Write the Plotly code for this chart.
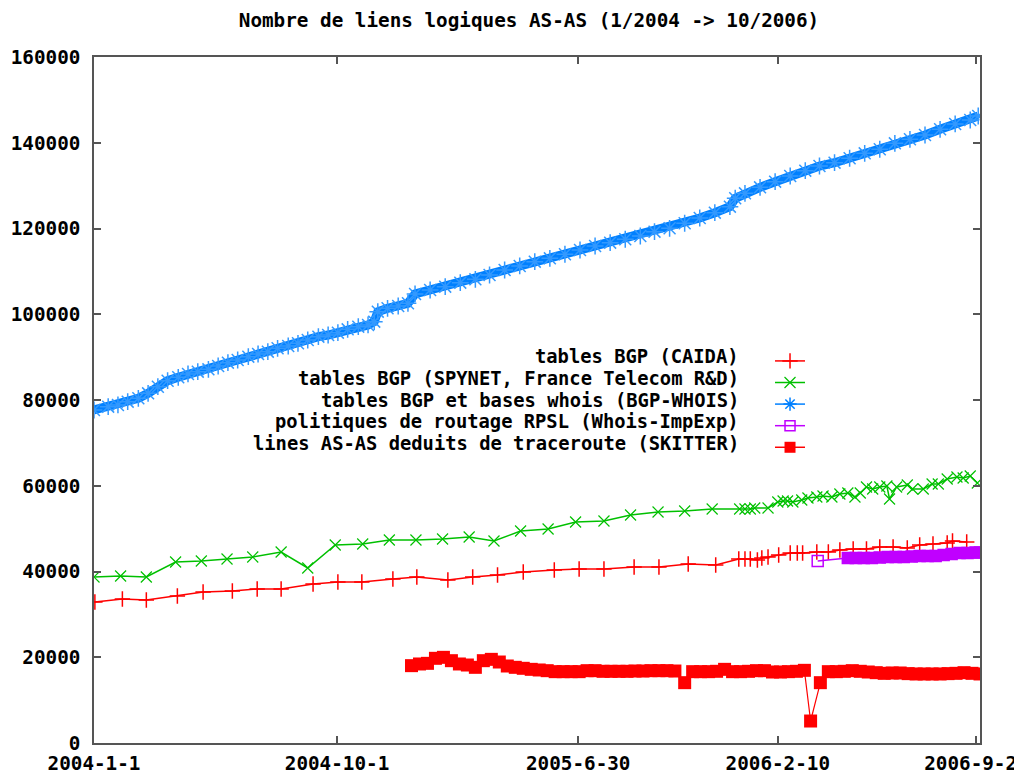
import pandas as pd
import plotly.graph_objects as go

START = pd.Timestamp("2004-01-01")
FONT = "DejaVu Sans Mono"

# jours depuis le 2004-01-01 -> nombre de liens AS-AS
caida_days = [1, 32, 59, 94, 123, 156, 184, 211, 247, 275, 302, 337, 364, 399, 427, 455,
              484, 519, 547, 575, 609, 637, 670, 701, 727, 734, 740, 748, 753, 760, 772,
              785, 793, 799, 815, 828, 841, 856, 871, 886, 901, 917, 931, 946, 962, 968, 984]
caida_links = [32890, 33590, 33350, 34290, 35220, 35450, 35920, 35920, 37090, 37550, 37550,
               38250, 38720, 38020, 38720, 39180, 39880, 40350, 40580, 40580, 41050, 41050,
               41750, 41520, 42920, 42920, 42920, 42680, 43150, 43380, 43850, 44320, 44320,
               44320, 44550, 44550, 45020, 45250, 45250, 45720, 45720, 45480, 46180, 46420,
               46650, 47110, 46880]

spynet_days = [0, 30, 59, 92, 121, 150, 179, 211, 241, 272, 303, 333, 363, 393, 423, 451,
               481, 512, 543, 575, 605, 636, 666, 697, 728, 734, 740, 745, 760, 771, 777,
               782, 788, 798, 805, 815, 822, 832, 841, 850, 858, 864, 871, 878, 886, 894,
               897, 905, 917, 923, 935, 945, 952, 962, 973, 980, 988, 996]
spynet_links = [38720, 38950, 38720, 42220, 42450, 42920, 43380, 44550, 40820, 46180, 46420,
                47350, 47350, 47580, 48050, 47110, 49450, 49910, 51550, 51780, 53180, 53880,
                54110, 54580, 54580, 54580, 54580, 54810, 54810, 56210, 56440, 56440, 56210,
                56680, 57140, 57380, 57610, 57380, 58080, 58310, 57380, 58310, 59710, 59240,
                59710, 59940, 56910, 59710, 60180, 59240, 59240, 60410, 60410, 61580, 62040,
                61810, 62280, 60640]

whois_days = [0, 16, 27, 38, 50, 61, 72, 83, 95, 106, 117, 129, 140, 151, 162, 174, 185,
              196, 207, 219, 230, 241, 253, 264, 275, 286, 298, 309, 316, 320, 331, 343,
              354, 362, 379, 396, 413, 430, 446, 463, 480, 497, 514, 531, 548, 565, 582,
              599, 616, 632, 649, 666, 683, 700, 717, 723, 734, 751, 768, 785, 802, 818,
              835, 852, 869, 886, 903, 920, 937, 954, 971, 988, 997]
whois_links = [77670, 78450, 78840, 79610, 80400, 81560, 83100, 84500, 85300, 86070, 86600,
               87160, 87930, 88700, 89330, 90100, 90730, 91270, 92060, 92600, 93230, 94000,
               94770, 95160, 95700, 96490, 97100, 97500, 98270, 100600, 101390, 101930,
               102560, 104730, 105660, 106430, 107360, 108150, 109160, 110320, 111260,
               112260, 113050, 113990, 114990, 115920, 116690, 117490, 118250, 119260,
               120050, 121220, 122450, 123690, 125090, 127050, 128210, 129610, 130920,
               132250, 133480, 134580, 135350, 136380, 137540, 138480, 139870, 140810,
               141810, 143140, 144380, 145310, 146240]

rpsl_days = [816, 850, 859, 868, 877, 886, 895, 904, 913, 922, 931, 940, 949, 958,
             967, 976, 985, 994, 999]
rpsl_links = [42450, 43150, 43150, 43150, 43150, 43270, 43380, 43380, 43380, 43500,
              43620, 43620, 43620, 43850, 44080, 44310, 44310, 44430, 44430]

skitter_days = [358, 367, 376, 385, 394, 403, 412, 421, 430, 439, 448, 457, 466, 475, 484,
                493, 502, 511, 520, 529, 538, 547, 556, 565, 574, 583, 592, 601, 610, 619,
                628, 637, 646, 655, 666, 675, 684, 693, 702, 711, 720, 729, 738, 747, 756,
                765, 774, 783, 792, 801, 808, 819, 828, 837, 846, 855, 864, 873, 882, 891,
                900, 909, 918, 927, 936, 945, 954, 963, 972, 981, 990, 999]
skitter_links = [18040, 18430, 18580, 19750, 19980, 19200, 18430, 18190, 17650, 19200, 19510,
                 18890, 17960, 17650, 17420, 17180, 17030, 16870, 16640, 16640, 16640, 16640,
                 16870, 16870, 16720, 16720, 16720, 16720, 16790, 16790, 16870, 16870, 16870,
                 16790, 14070, 16640, 16640, 16640, 16720, 17180, 16640, 16640, 16720, 16870,
                 16870, 16560, 16560, 16640, 16720, 16950, 5130, 14070, 16640, 16640, 16720,
                 16870, 16720, 16560, 16400, 16250, 16330, 16330, 16180, 16100, 16100, 16100,
                 16100, 16180, 16250, 16400, 16250, 16100]

series_labels = [
    "tables BGP (CAIDA)",
    "tables BGP (SPYNET, France Telecom R&D)",
    "tables BGP et bases whois (BGP-WHOIS)",
    "politiques de routage RPSL (Whois-ImpExp)",
    "lines AS-AS deduits de traceroute (SKITTER)",
]

tick_dates = ["2004-01-01", "2004-10-01", "2005-06-30", "2006-02-10", "2006-09-22"]
tick_labels = ["2004-1-1", "2004-10-1", "2005-6-30", "2006-2-10", "2006-9-22"]


def to_dates(days):
    return START + pd.to_timedelta(days, unit="D")


RED = "#ff0000"
GREEN = "#00c000"
BLUE = "#0080ff"
PURPLE = "#c000ff"
TXT = dict(family=FONT, size=19.3, color="black", weight="bold")

# premier point RPSL isole (carre vide), puis bande dense de carres
rpsl_symbols = ["square-open"] + ["square"] * (len(rpsl_days) - 1)

# (jours, valeurs, style ligne, style marqueur) par serie
styles = [
    (caida_days, caida_links, dict(color=RED, width=1.5),
     dict(symbol="cross-thin-open", size=11, color=RED, line=dict(color=RED, width=1.5))),
    (spynet_days, spynet_links, dict(color=GREEN, width=1.5),
     dict(symbol="x-thin-open", size=11, color=GREEN, line=dict(color=GREEN, width=1.2))),
    (whois_days, whois_links, dict(color=BLUE, width=9),
     dict(symbol="asterisk-open", size=14, color="#3399ff", line=dict(color="#3399ff", width=1.5))),
    (rpsl_days, rpsl_links, dict(color=PURPLE, width=1.5),
     dict(symbol=rpsl_symbols, size=11, color=PURPLE, line=dict(color=PURPLE, width=1.5))),
    (skitter_days, skitter_links, dict(color=RED, width=1.2),
     dict(symbol="square", size=13, color=RED, line=dict(width=0))),
]

legend_markers = [
    dict(symbol="cross-thin-open", size=11, color=RED, line=dict(color=RED, width=1.5)),
    dict(symbol="x-thin-open", size=11, color=GREEN, line=dict(color=GREEN, width=1.2)),
    dict(symbol="asterisk-open", size=11, color=BLUE, line=dict(color=BLUE, width=1.5)),
    dict(symbol="square-open", size=10, color=PURPLE, line=dict(color=PURPLE, width=1.5)),
    dict(symbol="square", size=11, color=RED, line=dict(width=0)),
]
legend_colors = [RED, GREEN, BLUE, PURPLE, RED]

fig = go.Figure()

for label, (days, links, line, marker) in zip(series_labels, styles):
    fig.add_trace(go.Scatter(
        x=to_dates(days), y=links, mode="lines+markers", name=label,
        line=line, marker=marker, showlegend=False,
    ))

# entrees de legende (le texte est pose a gauche, aligne a droite, facon gnuplot)
for color, marker in zip(legend_colors, legend_markers):
    fig.add_trace(go.Scatter(
        x=[None], y=[None], mode="lines+markers", name="",
        line=dict(color=color, width=1.5), marker=marker, showlegend=True,
    ))

legend_y = [0.5627, 0.5313, 0.5, 0.4687, 0.4373]
for label, yy in zip(series_labels, legend_y):
    fig.add_annotation(
        x=0.7303, y=yy, xref="paper", yref="paper", text=label, showarrow=False,
        xanchor="right", yanchor="middle", font={**TXT, "size": 18.8},
    )

axis_common = dict(
    showgrid=False, zeroline=False, showline=True, linecolor="#555555", linewidth=1.5,
    mirror="ticks", ticks="inside", ticklen=7, tickcolor="#555555", tickwidth=1.5,
    tickfont=TXT, automargin=False,
)

fig.update_layout(
    width=1014, height=775,
    paper_bgcolor="white", plot_bgcolor="white",
    margin=dict(l=94, r=34, t=57, b=32),
    title=dict(
        text="Nombre de liens logiques AS-AS (1/2004 -> 10/2006)",
        x=0.5217, y=0.974, xanchor="center", yanchor="middle", font=TXT,
    ),
    xaxis=dict(
        type="date", range=["2004-01-01", "2006-09-26"],
        tickmode="array", tickvals=tick_dates, ticktext=tick_labels,
        ticklabelstandoff=2, ticklabeloverflow="allow", **axis_common,
    ),
    yaxis=dict(
        range=[0, 160000], tickmode="linear", tick0=0, dtick=20000,
        tickformat="d", ticklabelstandoff=8, **axis_common,
    ),
    legend=dict(
        x=0.763, y=0.580, xanchor="left", yanchor="top",
        bgcolor="rgba(0,0,0,0)", borderwidth=0,
        font=dict(family=FONT, size=14.3),
    ),
)

fig.write_html(
    "out.html",
    config={"displayModeBar": False},
    post_script="document.body.style.margin='0';",
)
